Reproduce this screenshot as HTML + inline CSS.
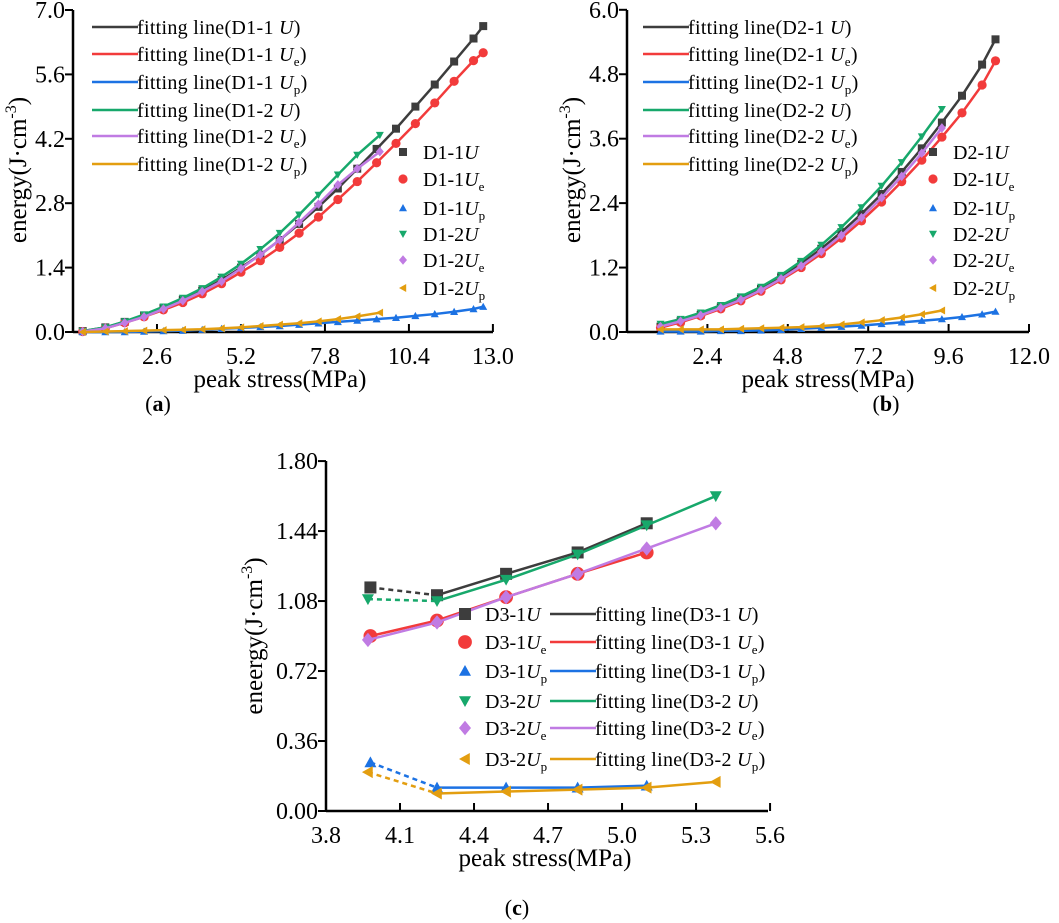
<!DOCTYPE html>
<html><head><meta charset="utf-8"><style>
body{margin:0;background:#fff;}
svg{display:block;font-family:"Liberation Serif",serif;}
</style></head><body>
<svg id="fig" width="1059" height="923" viewBox="0 0 1059 923" xmlns="http://www.w3.org/2000/svg"></svg>
<script>
// Panel (a) data
const aX1 = [0.3,1.0,1.6,2.2,2.8,3.4,4.0,4.6,5.2,5.8,6.4,7.0,7.6,8.2,8.8,9.4,10.0,10.6,11.2,11.8,12.4,12.7];
const aU1 = [0.02,0.1,0.22,0.36,0.52,0.7,0.9,1.13,1.4,1.68,2.0,2.35,2.72,3.12,3.55,3.98,4.42,4.9,5.38,5.88,6.38,6.65];
const aUe1 = [0.01,0.08,0.2,0.33,0.48,0.64,0.83,1.05,1.3,1.55,1.84,2.15,2.5,2.88,3.27,3.68,4.1,4.53,4.98,5.45,5.9,6.07];
const aUp1 = [0,0,0,0.01,0.02,0.03,0.05,0.07,0.09,0.11,0.13,0.16,0.19,0.22,0.25,0.28,0.31,0.35,0.39,0.44,0.5,0.55];
const aX2 = [0.3,1.0,1.6,2.2,2.8,3.4,4.0,4.6,5.2,5.8,6.4,7.0,7.6,8.2,8.8,9.5];
const aU2 = [0.02,0.1,0.23,0.38,0.55,0.74,0.95,1.2,1.48,1.8,2.15,2.55,2.98,3.42,3.85,4.28];
const aUe2 = [0.01,0.08,0.2,0.33,0.5,0.68,0.88,1.1,1.38,1.68,2.0,2.38,2.78,3.2,3.55,3.92];
const aUp2 = [0,0.01,0.02,0.03,0.04,0.05,0.06,0.08,0.1,0.13,0.16,0.19,0.23,0.28,0.34,0.42];
const aXTicks = [2.6,5.2,7.8,10.4,13.0];
const aYTicks = [0.0,1.4,2.8,4.2,5.6,7.0];
// Panel (b) data
const bX1 = [1.0,1.6,2.2,2.8,3.4,4.0,4.6,5.2,5.8,6.4,7.0,7.6,8.2,8.8,9.4,10.0,10.6,11.0];
const bU1 = [0.1,0.2,0.32,0.46,0.62,0.8,1.02,1.27,1.55,1.86,2.2,2.57,2.98,3.42,3.9,4.4,4.98,5.45];
const bUe1 = [0.08,0.18,0.3,0.43,0.58,0.76,0.97,1.2,1.46,1.75,2.07,2.42,2.8,3.2,3.63,4.08,4.6,5.05];
const bUp1 = [0.01,0.01,0.01,0.02,0.02,0.03,0.04,0.06,0.08,0.1,0.12,0.15,0.18,0.21,0.24,0.28,0.33,0.38];
const bX2 = [1.0,1.6,2.2,2.8,3.4,4.0,4.6,5.2,5.8,6.4,7.0,7.6,8.2,8.8,9.4];
const bU2 = [0.15,0.24,0.36,0.5,0.66,0.84,1.06,1.32,1.62,1.95,2.32,2.72,3.16,3.64,4.15];
const bUe2 = [0.1,0.2,0.31,0.45,0.6,0.78,0.99,1.23,1.5,1.8,2.13,2.5,2.9,3.33,3.8];
const bUp2 = [0.05,0.05,0.05,0.05,0.06,0.07,0.08,0.09,0.11,0.14,0.18,0.22,0.27,0.33,0.4];
const bXTicks = [2.4,4.8,7.2,9.6,12.0];
const bYTicks = [0.0,1.2,2.4,3.6,4.8,6.0];
// Panel (c) data
const cX1 = [3.98,4.25,4.53,4.82,5.10];
const cU1 = [1.15,1.11,1.22,1.33,1.48];
const cUe1 = [0.90,0.98,1.10,1.22,1.33];
const cUp1 = [0.25,0.12,0.12,0.12,0.13];
const cX2 = [3.97,4.25,4.53,4.82,5.10,5.38];
const cU2 = [1.09,1.08,1.19,1.32,1.47,1.62];
const cUe2 = [0.88,0.97,1.10,1.22,1.35,1.48];
const cUp2 = [0.20,0.09,0.10,0.11,0.12,0.15];
const cXTicks = [3.8,4.1,4.4,4.7,5.0,5.3,5.6];
const cYTicks = [0.00,0.36,0.72,1.08,1.44,1.80];

const NS = "http://www.w3.org/2000/svg";
const svg = document.getElementById('fig');
const COL = {U1:'#3d3d3d',Ue1:'#f23b3b',Up1:'#1c72e3',U2:'#17a86b',Ue2:'#c07be3',Up2:'#e39e10'};

function el(tag, attrs, parent){
  const e = document.createElementNS(NS, tag);
  for (const k in attrs) e.setAttribute(k, attrs[k]);
  (parent||svg).appendChild(e);
  return e;
}
function marker(g, shape, x, y, r, c){
  let m;
  if (shape==='sq') m = el('rect',{x:x-r,y:y-r,width:2*r,height:2*r,fill:c},g);
  else if (shape==='ci') m = el('circle',{cx:x,cy:y,r:r*1.15,fill:c},g);
  else if (shape==='up') m = el('polygon',{points:`${x},${y-r} ${x-r},${y+r*0.8} ${x+r},${y+r*0.8}`,fill:c},g);
  else if (shape==='dn') m = el('polygon',{points:`${x},${y+r} ${x-r},${y-r*0.8} ${x+r},${y-r*0.8}`,fill:c},g);
  else if (shape==='di') m = el('polygon',{points:`${x},${y-r*1.2} ${x+r},${y} ${x},${y+r*1.2} ${x-r},${y}`,fill:c},g);
  else m = el('polygon',{points:`${x-r},${y} ${x+r*0.8},${y-r} ${x+r*0.8},${y+r}`,fill:c},g);
  
  
  return m;
}
function axes(p){
  const g = el('g',{});
  
  
  el('line',{x1:p.x0,y1:p.yTop,x2:p.x0,y2:p.y0,stroke:'#000','stroke-width':2.5},g);
  el('line',{x1:p.x0,y1:p.y0,x2:p.xEnd,y2:p.y0,stroke:'#000','stroke-width':2.5},g);
  p.yt.forEach(v=>{
    const y = p.sy(v);
    el('line',{x1:p.x0-8,y1:y,x2:p.x0,y2:y,stroke:'#000','stroke-width':2},g);
    const t = el('text',{x:p.x0-8,y:y+8,'text-anchor':'end','font-size':24},g);
    t.textContent = v.toFixed(p.yd);
    
    
  });
  p.xt.forEach(v=>{
    const x = p.sx(v);
    el('line',{x1:x,y1:p.y0,x2:x,y2:p.y0-8,stroke:'#000','stroke-width':2},g);
    const t = el('text',{x:x,y:p.y0+32,'text-anchor':'middle','font-size':24},g);
    t.textContent = v.toFixed(1);
    
    
  });
  const xt = el('text',{x:p.xTitleX,y:p.y0+55,'text-anchor':'middle','font-size':25},g);
  xt.textContent = 'peak stress(MPa)';
  
  
  const yt = el('text',{transform:`translate(${p.yTitleX},${p.yTitleY}) rotate(-90)`,'text-anchor':'middle','font-size':25},g);
  yt.innerHTML = p.yTitle + '(J·cm<tspan dy="-10" font-size="16">-3</tspan><tspan dy="10">)</tspan>';
  
  
}
function series(p, xs, ys, shape, c, name, dashFirst){
  const g = el('g',{});
  
  
  const pts = xs.map((x,i)=>[p.sx(x),p.sy(ys[i])]);
  if (dashFirst){
    el('line',{x1:pts[0][0],y1:pts[0][1],x2:pts[1][0],y2:pts[1][1],stroke:c,'stroke-width':2.5,'stroke-dasharray':'5 4'},g);
    el('polyline',{points:pts.slice(1).map(q=>q.join(',')).join(' '),fill:'none',stroke:c,'stroke-width':2.5},g);
  } else {
    el('polyline',{points:pts.map(q=>q.join(',')).join(' '),fill:'none',stroke:c,'stroke-width':2.5},g);
  }
  pts.forEach(q=>marker(g,shape,q[0],q[1],p.mr,c));
}
function lineLegend(x, y, c, pre, sub, parent){
  const g = el('g',{},parent);
  
  
  el('line',{x1:x,y1:y-6,x2:x+46,y2:y-6,stroke:c,'stroke-width':2.5},g);
  const t = el('text',{x:x+45,y:y+1,'font-size':20,'letter-spacing':'0.3'},g);
  t.innerHTML = `fitting line(${pre} <tspan font-style="italic">U</tspan>${sub?`<tspan dy="5" font-size="13">${sub}</tspan><tspan dy="-5">)</tspan>`:')'}`;
}
function markLegend(x, y, shape, c, pre, sub, r, parent){
  const g = el('g',{},parent);
  
  
  marker(g, shape, x, y-6, r, c);
  const t = el('text',{x:x+20,y:y+1,'font-size':20},g);
  t.innerHTML = `${pre}<tspan font-style="italic">U</tspan>${sub?`<tspan dy="5" font-size="13">${sub}</tspan>`:''}`;
}
function label(x,y,s){
  const t = el('text',{x:x,y:y,'text-anchor':'middle','font-size':22});
  t.innerHTML = `(<tspan font-weight="bold">${s}</tspan>)`;
  
  
}

// Panel a
const pa = {name:'panel-a',x0:73,y0:332,yTop:10,xEnd:493,sx:v=>73+v*32.3,sy:v=>332-v*46,yt:aYTicks,xt:aXTicks,yd:1,mr:4,xTitleX:280,yTitleX:26,yTitleY:170,yTitle:'energy'};
axes(pa);
series(pa,aX1,aU1,'sq',COL.U1,'series-d1-1-u');
series(pa,aX1,aUe1,'ci',COL.Ue1,'series-d1-1-ue');
series(pa,aX1,aUp1,'up',COL.Up1,'series-d1-1-up');
series(pa,aX2,aU2,'dn',COL.U2,'series-d1-2-u');
series(pa,aX2,aUe2,'di',COL.Ue2,'series-d1-2-ue');
series(pa,aX2,aUp2,'lt',COL.Up2,'series-d1-2-up');
// Panel b
const pb = {name:'panel-b',x0:627,y0:332,yTop:10,xEnd:1029,sx:v=>627+v*33.5,sy:v=>332-v*53.7,yt:bYTicks,xt:bXTicks,yd:1,mr:4,xTitleX:828,yTitleX:580,yTitleY:170,yTitle:'energy'};
axes(pb);
series(pb,bX1,bU1,'sq',COL.U1,'series-d2-1-u');
series(pb,bX1,bUe1,'ci',COL.Ue1,'series-d2-1-ue');
series(pb,bX1,bUp1,'up',COL.Up1,'series-d2-1-up');
series(pb,bX2,bU2,'dn',COL.U2,'series-d2-2-u');
series(pb,bX2,bUe2,'di',COL.Ue2,'series-d2-2-ue');
series(pb,bX2,bUp2,'lt',COL.Up2,'series-d2-2-up');
// Panel c
const pc = {name:'panel-c',x0:326,y0:811,yTop:461,xEnd:768,sx:v=>326+(v-3.8)*246.7,sy:v=>811-v*194.4,yt:cYTicks,xt:cXTicks,yd:2,mr:6,xTitleX:545,yTitleX:262,yTitleY:636,yTitle:'eneergy'};
axes(pc);
series(pc,cX1,cU1,'sq',COL.U1,'series-d3-1-u',true);
series(pc,cX1,cUe1,'ci',COL.Ue1,'series-d3-1-ue',false);
series(pc,cX1,cUp1,'up',COL.Up1,'series-d3-1-up',true);
series(pc,cX2,cU2,'dn',COL.U2,'series-d3-2-u',true);
series(pc,cX2,cUe2,'di',COL.Ue2,'series-d3-2-ue',false);
series(pc,cX2,cUp2,'lt',COL.Up2,'series-d3-2-up',true);

// Legends
const keys = [['U1',''],['Ue1','e'],['Up1','p'],['U2',''],['Ue2','e'],['Up2','p']];
const shapes = ['sq','ci','up','dn','di','lt'];
const ra=[26,53,81,109,135,163], rm=[151,178,207,233,259,287];
const la = el('g',{});  
const lb = el('g',{});  
const lc = el('g',{});  
keys.forEach((k,i)=>{
  const s = i<3?'1':'2';
  lineLegend(92, ra[i]+7, COL[k[0]], 'D1-'+s, k[1], la);
  markLegend(403, rm[i]+7, shapes[i], COL[k[0]], 'D1-'+s, k[1], 4, la);
  lineLegend(643, ra[i]+7, COL[k[0]], 'D2-'+s, k[1], lb);
  markLegend(933, rm[i]+7, shapes[i], COL[k[0]], 'D2-'+s, k[1], 4, lb);
});
const rc=[613,641,670,700,727,758];
keys.forEach((k,i)=>{
  const s = i<3?'1':'2';
  markLegend(465, rc[i]+7, shapes[i], COL[k[0]], 'D3-'+s, k[1], 6, lc);
  lineLegend(550, rc[i]+7, COL[k[0]], 'D3-'+s, k[1], lc);
});
label(158,411,'a'); label(886,411,'b'); label(517,915,'c');
</script>
</body></html>
